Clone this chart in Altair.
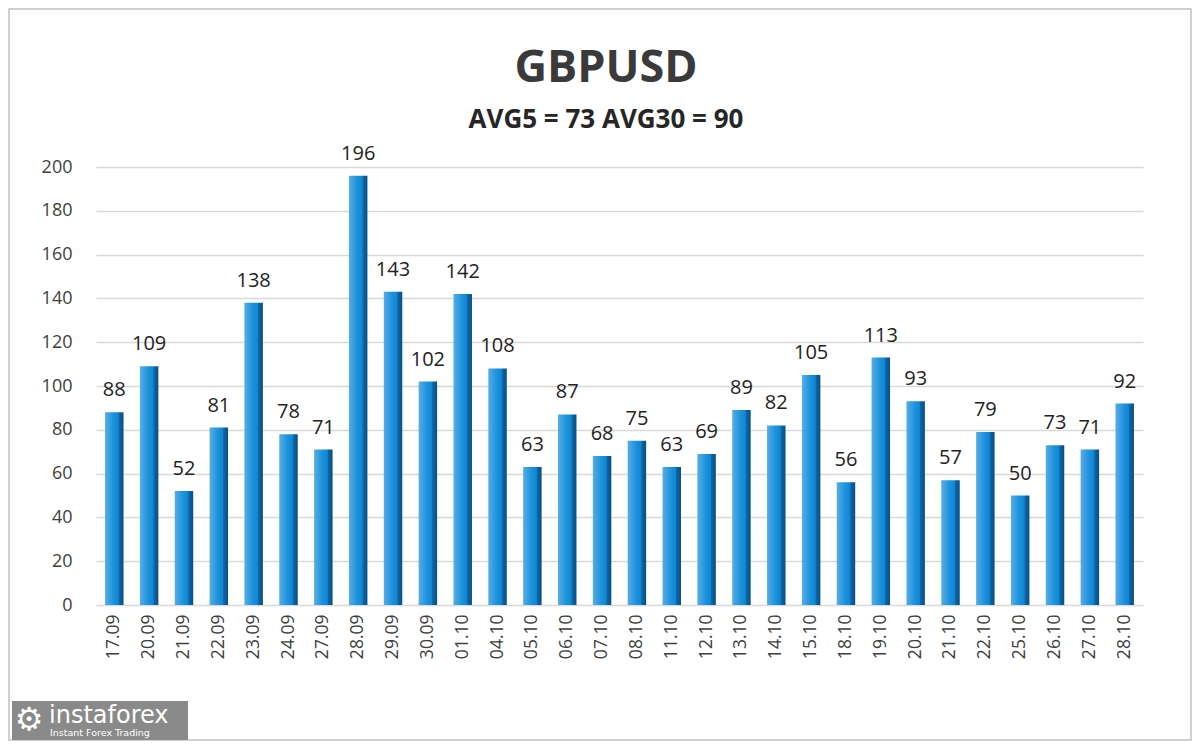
import altair as alt
import pandas as pd

dates = ["17.09","20.09","21.09","22.09","23.09","24.09","27.09","28.09","29.09","30.09",
         "01.10","04.10","05.10","06.10","07.10","08.10","11.10","12.10","13.10","14.10",
         "15.10","18.10","19.10","20.10","21.10","22.10","25.10","26.10","27.10","28.10"]
values = [88,109,52,81,138,78,71,196,143,102,142,108,63,87,68,75,63,69,89,82,
          105,56,113,93,57,79,50,73,71,92]
y_ticks = [0,20,40,60,80,100,120,140,160,180,200]
title_text = "GBPUSD"
subtitle_text = "AVG5 = 73 AVG30 = 90"

df = pd.DataFrame({"date": dates, "value": values})

W, H = 1047, 438
FONT = "Open Sans"

x = alt.X("date:N", sort=dates, title=None,
          scale=alt.Scale(paddingInner=0.47, paddingOuter=0.26),
          axis=alt.Axis(labelAngle=270, labelFontSize=17.5, labelColor="#404040",
                        labelFont=FONT, ticks=False, domain=False, labelPadding=9,
                        labelAlign="right", labelBaseline="middle"))
y = alt.Y("value:Q", title=None,
          scale=alt.Scale(domain=[0, 200], nice=False),
          axis=alt.Axis(values=y_ticks, labelFontSize=18, labelColor="#404040",
                        labelFont=FONT, ticks=False, domain=False, labelPadding=24,
                        gridColor="#d9d9d9", gridWidth=1.5))

grad = alt.Gradient(gradient="linear", x1=0, x2=1, y1=0, y2=0,
                    stops=[alt.GradientStop(offset=0, color="#58ade6"),
                           alt.GradientStop(offset=0.45, color="#1d92dc"),
                           alt.GradientStop(offset=0.72, color="#0f86d2"),
                           alt.GradientStop(offset=0.76, color="#0b67a8"),
                           alt.GradientStop(offset=1, color="#0a4e80")])

bars = alt.Chart(df).mark_bar(color=grad).encode(x=x, y=y)

labels = alt.Chart(df).mark_text(baseline="bottom", dy=-12, fontSize=20,
                                 font=FONT, color="#222222").encode(
    x=alt.X("date:N", sort=dates), y="value:Q", text="value:Q")

title = alt.Chart(pd.DataFrame({"t": [title_text]})).mark_text(
    fontSize=45, fontWeight="bold", font=FONT, color="#3a3a3a",
    baseline="middle", align="center").encode(
    text="t:N", x=alt.value(510), y=alt.value(-99))

subtitle = alt.Chart(pd.DataFrame({"t": [subtitle_text]})).mark_text(
    fontSize=26, fontWeight="bold", font=FONT, color="#262626",
    baseline="middle", align="center").encode(
    text="t:N", x=alt.value(510), y=alt.value(-47))

frame = alt.Chart(pd.DataFrame({"a": [0]})).mark_rect(
    fill="transparent", stroke="#d0d0d0", strokeWidth=2).encode(
    x=alt.value(-87), x2=alt.value(1095), y=alt.value(-158), y2=alt.value(573))

logo_bg = alt.Chart(pd.DataFrame({"a": [0]})).mark_rect(color="#8a8a8a").encode(
    x=alt.value(-84), x2=alt.value(92), y=alt.value(534), y2=alt.value(573))

logo_t1 = alt.Chart(pd.DataFrame({"t": ["instaforex"]})).mark_text(
    fontSize=24, font="DejaVu Sans", color="white", align="left", baseline="alphabetic").encode(
    text="t:N", x=alt.value(-47), y=alt.value(556))

logo_t2 = alt.Chart(pd.DataFrame({"t": ["Instant Forex Trading"]})).mark_text(
    fontSize=9.5, font="DejaVu Sans", color="white", align="left", baseline="alphabetic").encode(
    text="t:N", x=alt.value(-46), y=alt.value(569))

logo_icon = alt.Chart(pd.DataFrame({"t": ["⚙"]})).mark_text(
    fontSize=32, font="DejaVu Sans", color="white", align="center", baseline="middle").encode(
    text="t:N", x=alt.value(-67), y=alt.value(553))

chart = alt.layer(frame, bars, labels, title, subtitle, logo_bg, logo_t1, logo_t2, logo_icon).properties(
    width=W, height=H,
    autosize=alt.AutoSizeParams(type="none"),
    padding={"left": 88, "top": 159, "right": 49, "bottom": 136},
    background="white"
).configure_view(stroke=None)

chart.save("out.html", embed_options={"renderer": "svg", "actions": False})
